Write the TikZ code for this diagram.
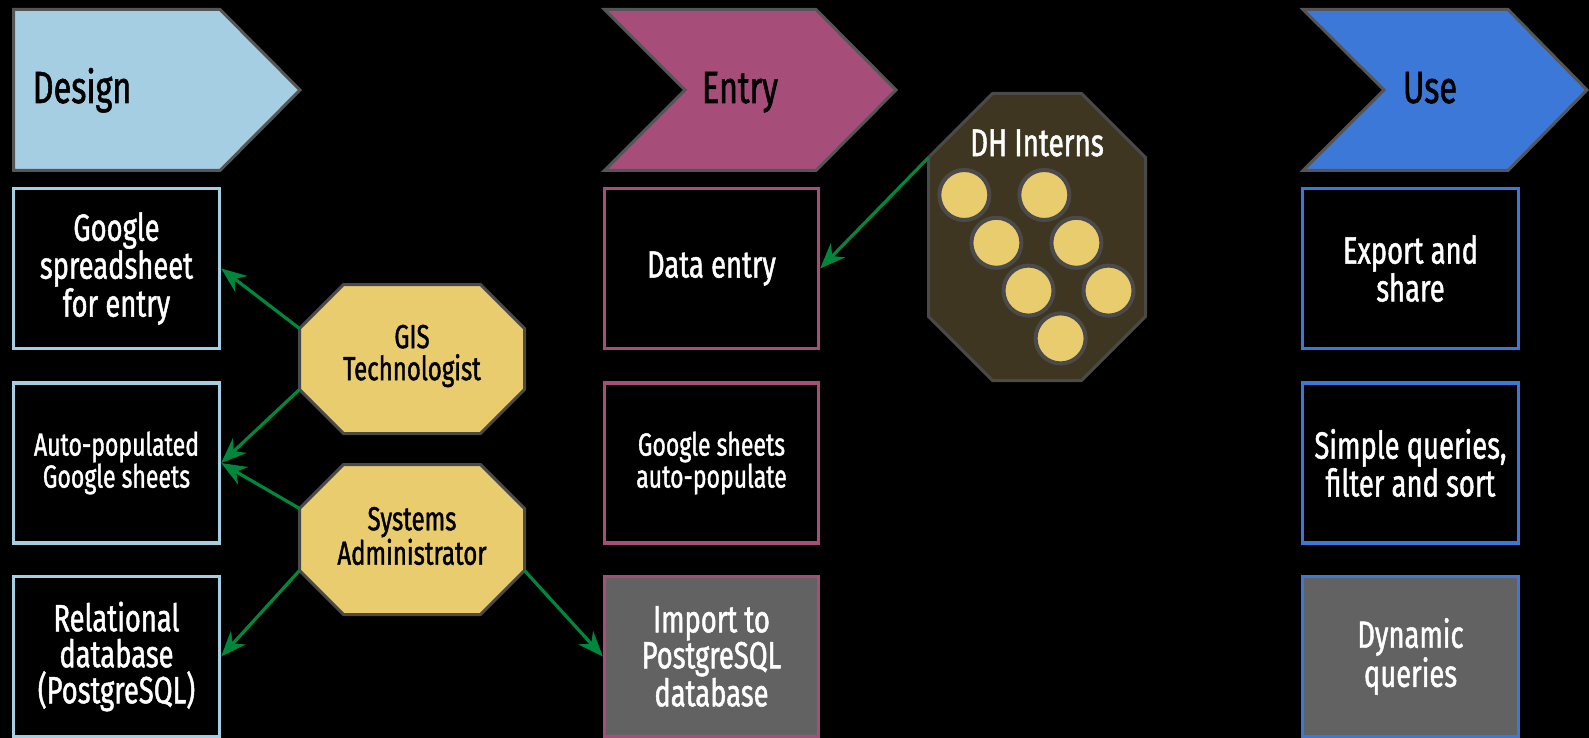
\documentclass[tikz,border=0pt]{standalone}
\usepackage{fontspec}
\setmainfont[FakeStretch=0.72,FakeBold=1.2]{Fira Sans}
\usetikzlibrary{arrows.meta}

\definecolor{designblue}{RGB}{166,206,227}
\definecolor{entrymagenta}{RGB}{166,77,121}
\definecolor{useblue}{RGB}{60,120,216}
\definecolor{cellgray}{RGB}{98,98,98}
\definecolor{chevline}{RGB}{85,85,85}
\definecolor{octyellow}{RGB}{232,204,110}
\definecolor{octline}{RGB}{74,74,74}
\definecolor{dhfill}{RGB}{62,54,33}
\definecolor{flowgreen}{RGB}{0,135,60}

\newcommand\phasefont{\fontsize{33.75pt}{36pt}\selectfont}
\newcommand\cellfont{\fontsize{28.5pt}{27pt}\selectfont}
\newcommand\cellsmallfont{\fontsize{24pt}{24pt}\selectfont}
\newcommand\rolefont{\fontsize{25pt}{24pt}\selectfont}
\newcommand\internfont{\fontsize{29pt}{30pt}\selectfont}

\begin{document}
\begin{tikzpicture}[x=0.75pt,y=0.75pt,yscale=-1,xscale=1,
	phase/.style={draw=chevline, line width=2.25pt, line join=miter},
	cell/.style={draw=#1, line width=2.5pt, fill=black, text=white, align=center, minimum height=120pt, inner sep=0pt, font=\cellfont},
	octo/.style={draw=octline, line width=2.25pt, fill=octyellow},
	role/.style={inner sep=0pt, align=center, font=\rolefont},
	intern/.style={circle, draw=octline, line width=3pt, fill=octyellow, minimum size=37.5pt, inner sep=0pt},
	flow/.style={draw=flowgreen, line width=2.4pt, -{Stealth[length=19pt, width=15pt, inset=6pt]}}]

	% background
	\fill[black] (0,0) rectangle (1589,738);
	\useasboundingbox (0,0) rectangle (1589,738);

	% phases
	\draw[phase, fill=designblue] (13.5,9.5) -- (220,9.5) -- (300,90) -- (220,170.5) -- (13.5,170.5) -- cycle;
	\draw[phase, fill=entrymagenta] (604.5,9.5) -- (816,9.5) -- (896,90) -- (816,170.5) -- (604.5,170.5) -- (685,90) -- cycle;
	\draw[phase, fill=useblue] (1303,9.5) -- (1508,9.5) -- (1587,90) -- (1508,170.5) -- (1303,170.5) -- (1384,90) -- cycle;
	\node[anchor=base west, inner sep=0pt, font=\phasefont] (design) at (32.5,103) {Design};
	\node[anchor=base, inner sep=0pt, font=\phasefont] (entry) at (740,103) {Entry};
	\node[anchor=base, inner sep=0pt, font=\phasefont] (use) at (1430,103) {Use};

	% design column
	\node[cell=designblue, minimum width=154.5pt] (gsheet) at (116.5,268.5) {Google\\spreadsheet\\for entry};
	\node[cell=designblue, minimum width=154.5pt, font=\cellsmallfont] (autosheet) at (116.5,463) {Auto-populated\\Google sheets};
	\node[cell=designblue, minimum width=154.5pt] (reldb) at (116.5,656.5) {Relational\\database\\(PostgreSQL)};

	% entry column
	\node[cell=entrymagenta, minimum width=160.5pt] (dataentry) at (711.5,268.5) {Data entry};
	\node[cell=entrymagenta, minimum width=160.5pt, font=\cellsmallfont] (autopop) at (711.5,463) {Google sheets\\auto-populate};
	\node[cell=entrymagenta, minimum width=160.5pt, fill=cellgray] (import) at (711.5,656.5) {Import to\\PostgreSQL\\database};

	% use column
	\node[cell=useblue, minimum width=162pt] (export) at (1410.5,268.5) {Export and\\share};
	\node[cell=useblue, minimum width=162pt] (simple) at (1410.5,463) {Simple queries,\\filter and sort};
	\node[cell=useblue, minimum width=162pt, fill=cellgray] (dynamic) at (1410.5,656.5) {Dynamic\\queries};

	% roles
	\draw[octo] (343.5,284.5) -- (480.5,284.5) -- (524.5,328.5) -- (524.5,389.5) -- (480.5,433.5) -- (343.5,433.5) -- (299.5,389.5) -- (299.5,328.5) -- cycle;
	\coordinate (gis-nw) at (299.5,328.5);
	\coordinate (gis-sw) at (299.5,389.5);
	\node[role] (gis) at (412,356) {GIS\\Technologist};

	\draw[octo] (343.5,464.5) -- (480.5,464.5) -- (524.5,508.5) -- (524.5,570.5) -- (480.5,614.5) -- (343.5,614.5) -- (299.5,570.5) -- (299.5,508.5) -- cycle;
	\coordinate (sys-nw) at (299.5,508.5);
	\coordinate (sys-sw) at (299.5,570.5);
	\coordinate (sys-se) at (524.5,570.5);
	\node[role] (sysadmin) at (412,536) {Systems\\Administrator};

	\draw[octo, fill=dhfill] (992.5,93.5) -- (1081.5,93.5) -- (1145.5,157.5) -- (1145.5,316.5) -- (1081.5,380.5) -- (992.5,380.5) -- (928.5,316.5) -- (928.5,157.5) -- cycle;
	\coordinate (dh-nw) at (928.5,157.5);
	\node[text=white, inner sep=0pt, font=\internfont] (dh) at (1037,143) {DH Interns};
	\foreach \i in {0,...,3}
		\node[intern] (interna\i) at (964.3+32.1*\i,195+47.8*\i) {};
	\foreach \i in {0,...,2}
		\node[intern] (internb\i) at (1044.3+32.1*\i,195+47.8*\i) {};

	% arrows
	\draw[flow] (gis-nw) -- (gsheet.east);
	\draw[flow] (gis-sw) -- (autosheet.east);
	\draw[flow] (sys-nw) -- (autosheet.east);
	\draw[flow] (sys-sw) -- (reldb.east);
	\draw[flow] (sys-se) -- (import.west);
	\draw[flow] (dh-nw) -- (dataentry.east);

\end{tikzpicture}
\end{document}
